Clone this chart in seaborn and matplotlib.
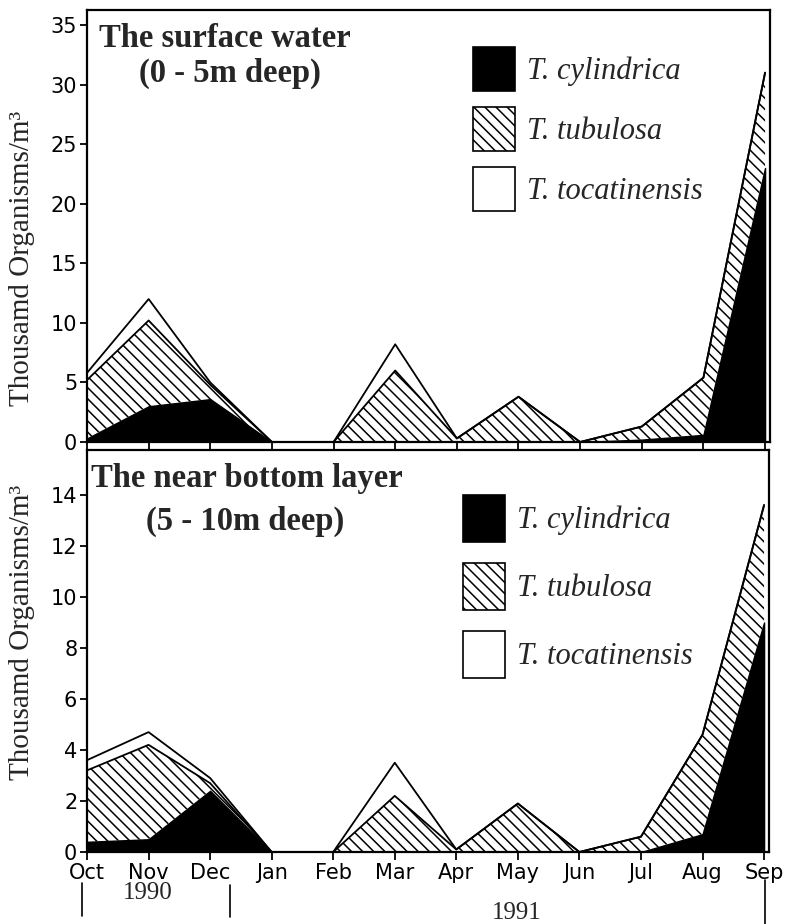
import numpy as np
import pandas as pd
import matplotlib
matplotlib.use("Agg")
import matplotlib.pyplot as plt
import seaborn as sns
from matplotlib import font_manager
from matplotlib.patches import Patch
from matplotlib.lines import Line2D

# Monthly sampling, Oct 1990 - Sep 1991 (thousand organisms per m^3)
months = ["Oct", "Nov", "Dec", "Jan", "Feb", "Mar", "Apr", "May", "Jun", "Jul", "Aug", "Sep"]
species = ["T. cylindrica", "T. tubulosa", "T. tocatinensis"]

# surface water, 0 - 5 m
surf_cylindrica = [0.3, 3.0, 3.6, 0, 0, 0, 0, 0, 0, 0.2, 0.6, 23.0]
surf_tubulosa = [4.9, 7.2, 1.2, 0, 0, 6.0, 0.3, 3.8, 0, 1.1, 4.8, 8.0]
surf_tocatinensis = [0.6, 1.8, 0.2, 0, 0, 2.2, 0, 0, 0, 0, 0, 0]

# near bottom layer, 5 - 10 m
bot_cylindrica = [0.4, 0.5, 2.4, 0, 0, 0, 0, 0, 0, 0, 0.7, 9.0]
bot_tubulosa = [2.8, 3.7, 0.3, 0, 0, 2.2, 0.1, 1.9, 0, 0.6, 3.9, 4.6]
bot_tocatinensis = [0.4, 0.5, 0.2, 0, 0, 1.3, 0, 0, 0, 0, 0, 0]

surf_ticks = [0, 5, 10, 15, 20, 25, 30, 35]
bot_ticks = [0, 2, 4, 6, 8, 10, 12, 14]

sns.set_theme(style="ticks")
plt.rcParams.update({
    "font.family": ["DejaVu Sans"],
    "hatch.linewidth": 1.1,
    "hatch.color": "black",
    "axes.linewidth": 1.6,
    "axes.edgecolor": "black",
    "xtick.color": "black",
    "ytick.color": "black",
})

installed = {f.name for f in font_manager.fontManager.ttflist}
month_font = "Liberation Sans Narrow" if "Liberation Sans Narrow" in installed else "DejaVu Sans"
month_size = 19 if month_font == "Liberation Sans Narrow" else 15
serif = "Liberation Serif"

W, H = 788, 924
fig = plt.figure(figsize=(W / 100, H / 100), dpi=100)


def px_axes(left, top, right, bottom):
    return fig.add_axes([left / W, 1 - bottom / H, (right - left) / W, (bottom - top) / H])


HATCH = "\\\\\\"


def stacked_panel(ax, cyl, tub, toc, ymax, yticks):
    x = np.arange(len(months))
    c1 = np.asarray(cyl, float)
    c2 = c1 + np.asarray(tub, float)
    c3 = c2 + np.asarray(toc, float)
    ax.fill_between(x, c2, c3, facecolor="white", edgecolor="none", zorder=1)
    ax.fill_between(x, c1, c2, facecolor="white", hatch=HATCH, edgecolor="black",
                    linewidth=0, zorder=2)
    ax.fill_between(x, 0, c1, facecolor="black", edgecolor="black", linewidth=1.0, zorder=3)
    outlines = pd.DataFrame({
        "month": np.concatenate([x, x]),
        "value": np.concatenate([c2, c3]),
        "edge": ["tubulosa"] * len(x) + ["total"] * len(x),
    })
    sns.lineplot(data=outlines, x="month", y="value", units="edge", estimator=None,
                 color="black", linewidth=1.3, legend=False, ax=ax, zorder=4)
    ax.set_xlim(0, 11.08)
    ax.set_ylim(0, ymax)
    ax.set_yticks(yticks)
    ax.set_yticklabels([str(t) for t in yticks], fontsize=15)
    ax.set_xticks(x)
    ax.set_xlabel("")
    ax.set_ylabel("")
    ax.tick_params(axis="both", direction="out", length=5, width=1.3, pad=2)
    for s in ax.spines.values():
        s.set_visible(True)
        s.set_linewidth(1.6)


ax1 = px_axes(87, 10, 770, 442)
ax2 = px_axes(87, 450, 769, 852)

stacked_panel(ax1, surf_cylindrica, surf_tubulosa, surf_tocatinensis, 36.26, surf_ticks)
stacked_panel(ax2, bot_cylindrica, bot_tubulosa, bot_tocatinensis, 15.76, bot_ticks)

ax1.set_xticklabels([])
ax1.tick_params(axis="x", length=6)
ax2.set_xticklabels(months, fontsize=month_size, family=month_font)
ax2.tick_params(axis="x", length=6, pad=2)

# panel headings
for txt, cx, by in [("The surface water", 225, 47), ("(0 - 5m deep)", 230, 82),
                    ("The near bottom layer", 247, 487), ("(5 - 10m deep)", 245, 530)]:
    fig.text(cx / W, 1 - by / H, txt, ha="center", va="baseline", fontsize=23.5,
             fontweight="bold", family=serif)

# y-axis titles
for cy in (258, 632):
    fig.text(22 / W, 1 - cy / H, "Thousamd Organisms/m³", rotation=90, ha="center",
             va="center", fontsize=21, family=serif)

# legends
handles = [
    Patch(facecolor="black", edgecolor="black", linewidth=1.2),
    Patch(facecolor="white", edgecolor="black", hatch=HATCH, linewidth=1.2),
    Patch(facecolor="white", edgecolor="black", linewidth=1.2),
]
for ax, lx, ly, hh, ls in [(ax1, 473, 47, 1.84, 0.52), (ax2, 463, 495, 1.99, 0.69)]:
    ax.legend(handles, species, loc="upper left",
              bbox_to_anchor=(lx / W, 1 - ly / H), bbox_transform=fig.transFigure,
              frameon=False, borderpad=0, borderaxespad=0,
              handlelength=1.37, handleheight=hh, handletextpad=0.4,
              labelspacing=ls,
              prop={"family": serif, "style": "italic", "size": 22})

# year brackets below the month axis
for xp, y0, y1 in [(82, 883, 916), (230, 885, 917), (765, 880, 924)]:
    fig.add_artist(Line2D([xp / W, xp / W], [1 - y0 / H, 1 - y1 / H],
                          transform=fig.transFigure, color="black", linewidth=1.2))
fig.text(148 / W, 1 - 893 / H, "1990", ha="center", va="center", fontsize=18, family=serif)
fig.text(517 / W, 1 - 913 / H, "1991", ha="center", va="center", fontsize=18, family=serif)

fig.savefig("out.png", dpi=100, facecolor="white")
